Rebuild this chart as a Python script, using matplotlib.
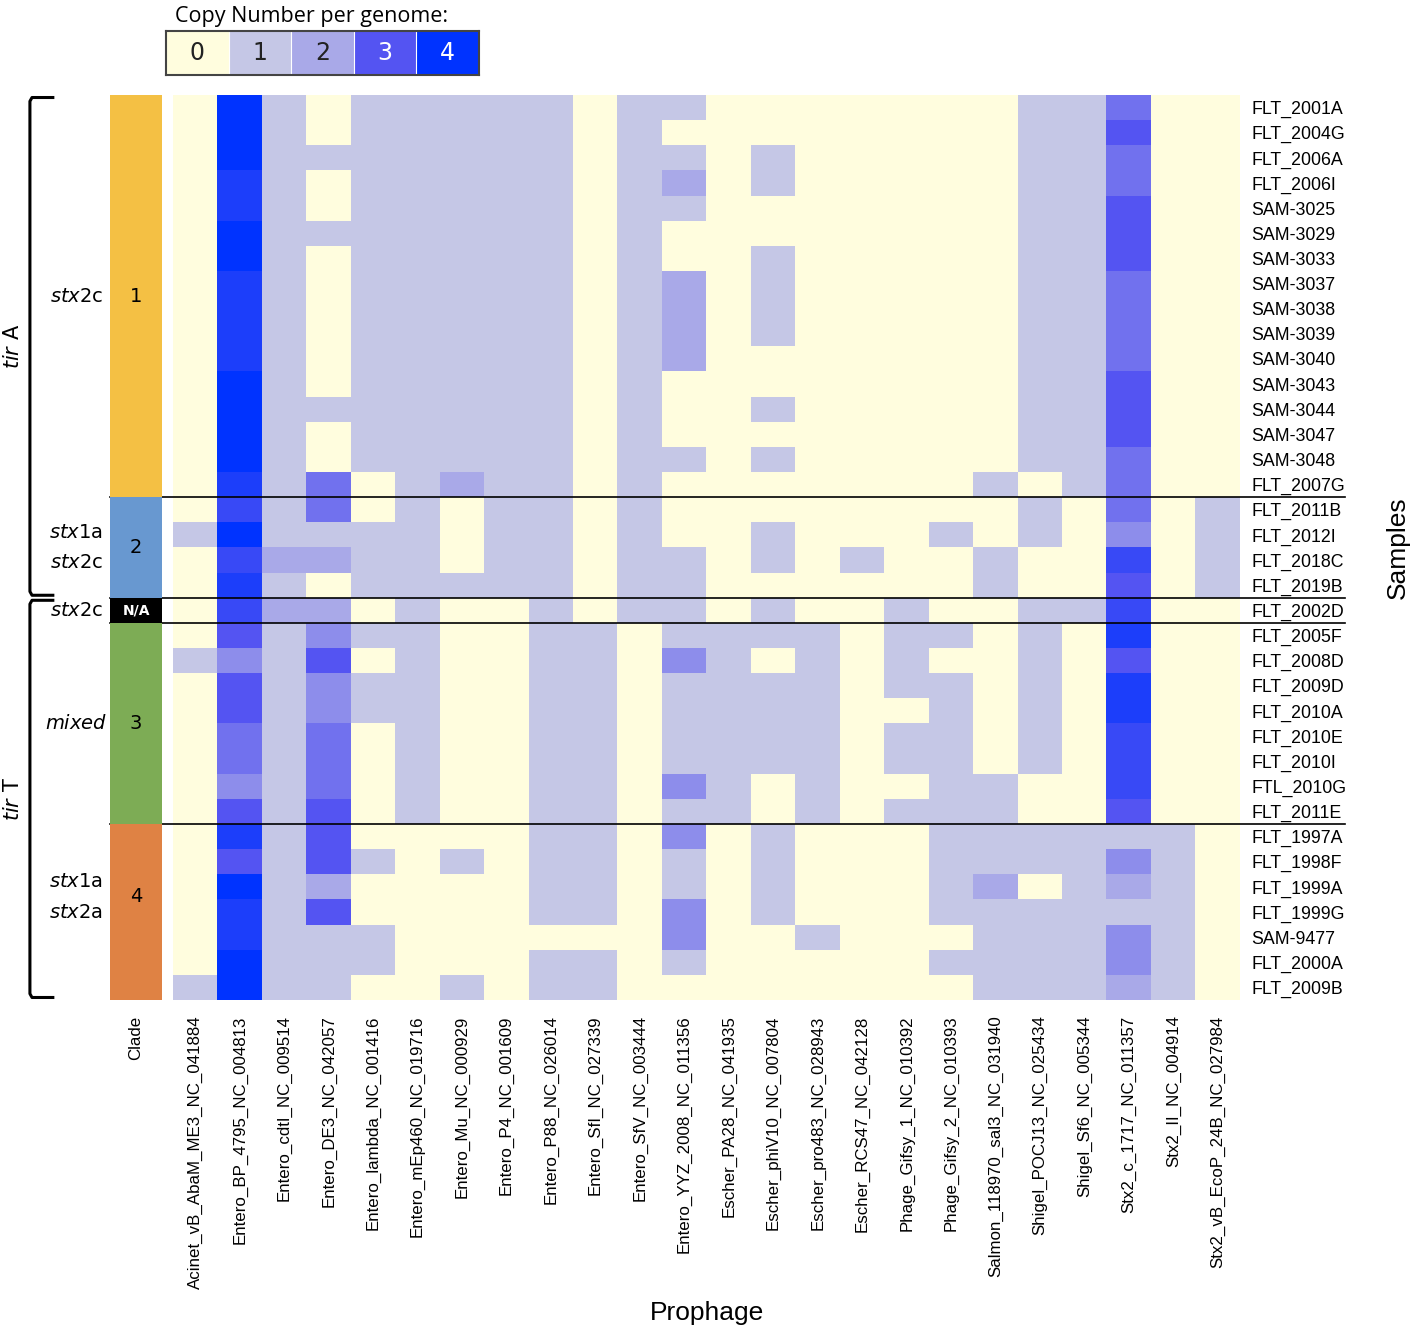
import numpy as np
import matplotlib.pyplot as plt
from matplotlib.colors import LinearSegmentedColormap, ListedColormap

samples = ["FLT_2001A", "FLT_2004G", "FLT_2006A", "FLT_2006I", "SAM-3025", "SAM-3029",
           "SAM-3033", "SAM-3037", "SAM-3038", "SAM-3039", "SAM-3040", "SAM-3043",
           "SAM-3044", "SAM-3047", "SAM-3048", "FLT_2007G",
           "FLT_2011B", "FLT_2012I", "FLT_2018C", "FLT_2019B",
           "FLT_2002D",
           "FLT_2005F", "FLT_2008D", "FLT_2009D", "FLT_2010A", "FLT_2010E", "FLT_2010I",
           "FTL_2010G", "FLT_2011E",
           "FLT_1997A", "FLT_1998F", "FLT_1999A", "FLT_1999G", "SAM-9477", "FLT_2000A",
           "FLT_2009B"]

prophages = ["Acinet_vB_AbaM_ME3_NC_041884", "Entero_BP_4795_NC_004813", "Entero_cdtI_NC_009514",
             "Entero_DE3_NC_042057", "Entero_lambda_NC_001416", "Entero_mEp460_NC_019716",
             "Entero_Mu_NC_000929", "Entero_P4_NC_001609", "Entero_P88_NC_026014",
             "Entero_SfI_NC_027339", "Entero_SfV_NC_003444", "Entero_YYZ_2008_NC_011356",
             "Escher_PA28_NC_041935", "Escher_phiV10_NC_007804", "Escher_pro483_NC_028943",
             "Escher_RCS47_NC_042128", "Phage_Gifsy_1_NC_010392", "Phage_Gifsy_2_NC_010393",
             "Salmon_118970_sal3_NC_031940", "Shigel_POCJ13_NC_025434", "Shigel_Sf6_NC_005344",
             "Stx2_c_1717_NC_011357", "Stx2_II_NC_004914", "Stx2_vB_EcoP_24B_NC_027984"]

clades = ["1"] * 16 + ["2"] * 4 + ["N/A"] + ["3"] * 8 + ["4"] * 7
tir = ["A"] * 20 + ["T"] * 16
clade_stx = {"1": r"$\mathit{stx}$2c",
             "2": r"$\mathit{stx}$1a" + "\n" + r"$\mathit{stx}$2c",
             "N/A": r"$\mathit{stx}$2c",
             "3": r"$\mathit{mixed}$",
             "4": r"$\mathit{stx}$1a" + "\n" + r"$\mathit{stx}$2a"}
clade_colors = {"1": "#F4C044", "2": "#6898D0", "N/A": "#000000", "3": "#7DAC55", "4": "#DF8244"}

copy_number = [
    [0, 4, 1, 0, 1, 1, 1, 1, 1, 0, 1, 1, 0, 0, 0, 0, 0, 0, 0, 1, 1, 2.67, 0, 0],
    [0, 4, 1, 0, 1, 1, 1, 1, 1, 0, 1, 0, 0, 0, 0, 0, 0, 0, 0, 1, 1, 3, 0, 0],
    [0, 4, 1, 1, 1, 1, 1, 1, 1, 0, 1, 1, 0, 1, 0, 0, 0, 0, 0, 1, 1, 2.67, 0, 0],
    [0, 3.67, 1, 0, 1, 1, 1, 1, 1, 0, 1, 2, 0, 1, 0, 0, 0, 0, 0, 1, 1, 2.67, 0, 0],
    [0, 3.67, 1, 0, 1, 1, 1, 1, 1, 0, 1, 1, 0, 0, 0, 0, 0, 0, 0, 1, 1, 3, 0, 0],
    [0, 4, 1, 1, 1, 1, 1, 1, 1, 0, 1, 0, 0, 0, 0, 0, 0, 0, 0, 1, 1, 3, 0, 0],
    [0, 4, 1, 0, 1, 1, 1, 1, 1, 0, 1, 0, 0, 1, 0, 0, 0, 0, 0, 1, 1, 3, 0, 0],
    [0, 3.67, 1, 0, 1, 1, 1, 1, 1, 0, 1, 2, 0, 1, 0, 0, 0, 0, 0, 1, 1, 2.67, 0, 0],
    [0, 3.67, 1, 0, 1, 1, 1, 1, 1, 0, 1, 2, 0, 1, 0, 0, 0, 0, 0, 1, 1, 2.67, 0, 0],
    [0, 3.67, 1, 0, 1, 1, 1, 1, 1, 0, 1, 2, 0, 1, 0, 0, 0, 0, 0, 1, 1, 2.67, 0, 0],
    [0, 3.67, 1, 0, 1, 1, 1, 1, 1, 0, 1, 2, 0, 0, 0, 0, 0, 0, 0, 1, 1, 2.67, 0, 0],
    [0, 4, 1, 0, 1, 1, 1, 1, 1, 0, 1, 0, 0, 0, 0, 0, 0, 0, 0, 1, 1, 3, 0, 0],
    [0, 4, 1, 1, 1, 1, 1, 1, 1, 0, 1, 0, 0, 1, 0, 0, 0, 0, 0, 1, 1, 3, 0, 0],
    [0, 4, 1, 0, 1, 1, 1, 1, 1, 0, 1, 0, 0, 0, 0, 0, 0, 0, 0, 1, 1, 3, 0, 0],
    [0, 4, 1, 0, 1, 1, 1, 1, 1, 0, 1, 1, 0, 1, 0, 0, 0, 0, 0, 1, 1, 2.67, 0, 0],
    [0, 3.67, 1, 2.67, 0, 1, 2, 1, 1, 0, 1, 0, 0, 0, 0, 0, 0, 0, 1, 0, 1, 2.67, 0, 0],
    [0, 3.33, 1, 2.67, 0, 1, 0, 1, 1, 0, 1, 0, 0, 0, 0, 0, 0, 0, 0, 1, 0, 2.67, 0, 1],
    [1, 4, 1, 1, 1, 1, 0, 1, 1, 0, 1, 0, 0, 1, 0, 0, 0, 1, 0, 1, 0, 2.33, 0, 1],
    [0, 3.33, 2, 2, 1, 1, 0, 1, 1, 0, 1, 1, 0, 1, 0, 1, 0, 0, 1, 0, 0, 3.33, 0, 1],
    [0, 3.67, 1, 0, 1, 1, 1, 1, 1, 0, 1, 1, 0, 0, 0, 0, 0, 0, 1, 0, 0, 3, 0, 1],
    [0, 3.33, 2, 2, 0, 1, 0, 0, 1, 0, 1, 1, 0, 1, 0, 0, 1, 0, 0, 1, 1, 3.33, 0, 0],
    [0, 3, 1, 2.33, 1, 1, 0, 0, 1, 1, 0, 1, 1, 1, 1, 0, 1, 1, 0, 1, 0, 3.67, 0, 0],
    [1, 2.33, 1, 3, 0, 1, 0, 0, 1, 1, 0, 2.33, 1, 0, 1, 0, 1, 0, 0, 1, 0, 3, 0, 0],
    [0, 3, 1, 2.33, 1, 1, 0, 0, 1, 1, 0, 1, 1, 1, 1, 0, 1, 1, 0, 1, 0, 3.67, 0, 0],
    [0, 3, 1, 2.33, 1, 1, 0, 0, 1, 1, 0, 1, 1, 1, 1, 0, 0, 1, 0, 1, 0, 3.67, 0, 0],
    [0, 2.67, 1, 2.67, 0, 1, 0, 0, 1, 1, 0, 1, 1, 1, 1, 0, 1, 1, 0, 1, 0, 3.33, 0, 0],
    [0, 2.67, 1, 2.67, 0, 1, 0, 0, 1, 1, 0, 1, 1, 1, 1, 0, 1, 1, 0, 1, 0, 3.33, 0, 0],
    [0, 2.33, 1, 2.67, 0, 1, 0, 0, 1, 1, 0, 2.33, 1, 0, 1, 0, 0, 1, 1, 0, 0, 3.33, 0, 0],
    [0, 3, 1, 3, 0, 1, 0, 0, 1, 1, 0, 1, 1, 0, 1, 0, 1, 1, 1, 0, 0, 3, 0, 0],
    [0, 3.67, 1, 3, 0, 0, 0, 0, 1, 1, 0, 2.33, 0, 1, 0, 0, 0, 1, 1, 1, 1, 1, 1, 0],
    [0, 3, 1, 3, 1, 0, 1, 0, 1, 1, 0, 1, 0, 1, 0, 0, 0, 1, 1, 1, 1, 2.33, 1, 0],
    [0, 4, 1, 2, 0, 0, 0, 0, 1, 1, 0, 1, 0, 1, 0, 0, 0, 1, 2, 0, 1, 2, 1, 0],
    [0, 3.67, 1, 3, 0, 0, 0, 0, 1, 1, 0, 2.33, 0, 1, 0, 0, 0, 1, 1, 1, 1, 1, 1, 0],
    [0, 3.67, 1, 1, 1, 0, 0, 0, 0, 0, 0, 2.33, 0, 0, 1, 0, 0, 0, 1, 1, 1, 2.33, 1, 0],
    [0, 4, 1, 1, 1, 0, 0, 0, 1, 1, 0, 1, 0, 0, 0, 0, 0, 1, 1, 1, 1, 2.33, 1, 0],
    [1, 4, 1, 1, 0, 0, 1, 0, 1, 1, 0, 0, 0, 0, 0, 0, 0, 0, 1, 1, 1, 2, 1, 0],
]

legend_levels = [0, 1, 2, 3, 4]

cmap = LinearSegmentedColormap.from_list(
    "copies", [(0, "#FFFDDE"), (0.25, "#C6C8E6"), (0.5, "#AAAAE8"), (0.75, "#5555F2"), (1, "#0033FF")])

W, H = 1416, 1335
fig = plt.figure(figsize=(W / 100, H / 100), dpi=100)

def px_axes(x0, y0, x1, y1):
    return fig.add_axes([x0 / W, 1 - y1 / H, (x1 - x0) / W, (y1 - y0) / H])

# main heatmap
ax = px_axes(173, 95, 1240, 1000)
data = np.array(copy_number, dtype=float)
ax.imshow(data, cmap=cmap, vmin=0, vmax=4, aspect="auto", interpolation="nearest")
for s in ax.spines.values():
    s.set_visible(False)
ax.set_xticks(range(len(prophages)))
ax.set_xticklabels(prophages, rotation=90, fontsize=12.2, family="Liberation Sans")
ax.yaxis.tick_right()
ax.set_yticks(range(len(samples)))
ax.set_yticklabels(samples, fontsize=12.8, family="Liberation Sans")
ax.tick_params(length=0)
ax.tick_params(axis="x", pad=11)
ax.tick_params(axis="y", pad=8)
ax.set_xlabel("Prophage", fontsize=19, family="Liberation Sans")
ax.xaxis.set_label_coords(0.5, -0.333)
ax.yaxis.set_label_position("right")
ax.set_ylabel("Samples", fontsize=19, family="Liberation Sans", rotation=90)
ax.yaxis.set_label_coords(1.137, 0.5)

# clade column
axc = px_axes(110, 95, 162, 1000)
order = list(dict.fromkeys(clades))
idx = np.array([[order.index(c)] for c in clades])
axc.imshow(idx, cmap=ListedColormap([clade_colors[c] for c in order]),
           vmin=-0.5, vmax=len(order) - 0.5, aspect="auto", interpolation="nearest")
for s in axc.spines.values():
    s.set_visible(False)
axc.set_xticks([0])
axc.set_xticklabels(["Clade"], rotation=90, fontsize=12.2, family="Liberation Sans")
axc.set_yticks([])
axc.tick_params(length=0, axis="x", pad=11)
tr = axc.get_yaxis_transform()

# group texts and separators
starts = [0] + [i for i in range(1, len(clades)) if clades[i] != clades[i - 1]]
ends = starts[1:] + [len(clades)]
for s0, e0 in zip(starts, ends):
    c = clades[s0]
    mid = (s0 + e0 - 1) / 2
    if c == "N/A":
        axc.text(0, mid, c, color="white", fontsize=10, fontweight="bold",
                 ha="center", va="center")
    else:
        axc.text(0, mid - (0.6 if c == "4" else 0), c, fontsize=14, ha="center", va="center")
    axc.text(-0.65, mid - (0.6 if c == "4" else 0), clade_stx[c], transform=tr,
             fontsize=14, ha="center", va="center", linespacing=1.75)
    if s0 > 0:
        ax.plot([-1.92, 25.86], [s0 - 0.5, s0 - 0.5], color="black", lw=1.2, clip_on=False)

# tir brackets
tstarts = [0] + [i for i in range(1, len(tir)) if tir[i] != tir[i - 1]]
tends = tstarts[1:] + [len(tir)]
for s0, e0 in zip(tstarts, tends):
    y0, y1 = s0 - 0.4, e0 - 0.6
    axc.plot([-1.07, -1.50, -1.54, -1.54, -1.50, -1.07],
             [y0, y0, y0 + 0.15, y1 - 0.15, y1, y1],
             transform=tr, color="black", lw=2.2, clip_on=False, solid_capstyle="butt")
    axc.text(-1.87, (s0 + e0 - 1) / 2, r"$\mathit{tir}$ " + tir[s0], transform=tr,
             fontsize=15, rotation=90, ha="center", va="center")

ax.set_xlim(-0.5, len(prophages) - 0.5)
ax.set_ylim(len(samples) - 0.5, -0.5)
axc.set_ylim(len(samples) - 0.5, -0.5)

# legend
axl = px_axes(166, 31, 479, 75)
axl.imshow([legend_levels], cmap=cmap, vmin=0, vmax=4, aspect="auto")
for v in legend_levels:
    axl.text(v, 0, str(v), ha="center", va="center", fontsize=17,
             color="white" if v >= 3 else "#222222")
for v in legend_levels[:-1]:
    axl.axvline(v + 0.5, color="white", lw=0.8)
axl.set_xticks([])
axl.set_yticks([])
for s in axl.spines.values():
    s.set_color("#444444")
    s.set_linewidth(1.5)
axl.text(0.03, 1.08, "Copy Number per genome:", transform=axl.transAxes,
         fontsize=15.5, family="Open Sans", ha="left", va="bottom")

fig.savefig("out.png", dpi=100)
